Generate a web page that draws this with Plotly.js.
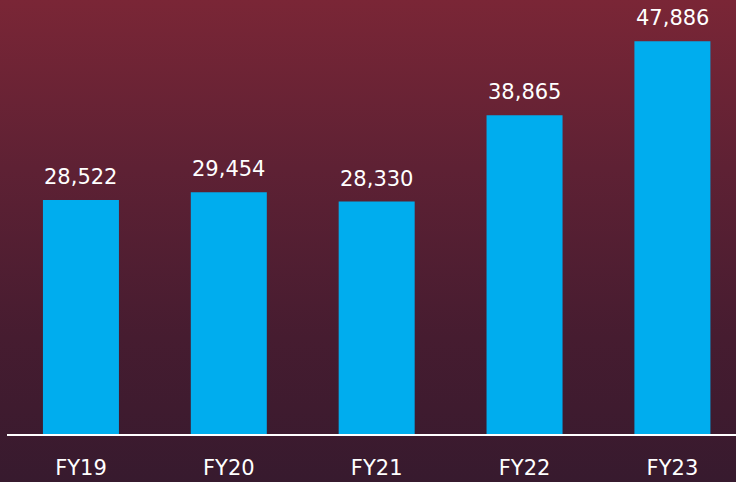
<!DOCTYPE html>
<html>
<head>
<meta charset="utf-8">
<script src="https://cdn.plot.ly/plotly-3.0.1.min.js"></script>
<style>
html,body{margin:0;padding:0;width:736px;height:482px;overflow:hidden;
background:linear-gradient(to bottom,#7a2636 0%,#5e2134 35%,#461c30 70%,#371a2e 100%);}
#chart{width:736px;height:482px;}
</style>
</head>
<body>
<div id="chart"></div>
<script>
const categories = ["FY19", "FY20", "FY21", "FY22", "FY23"];
const values = [28522, 29454, 28330, 38865, 47886];
const labels = ["28,522", "29,454", "28,330", "38,865", "47,886"];

const FONT = "'DejaVu Sans', Verdana, sans-serif";

const trace = {
  type: "bar",
  x: categories,
  y: values,
  marker: {color: "#00adee"},
  hoverinfo: "none"
};

const annotations = categories.map((c, i) => ({
  x: c, y: values[i], xref: "x", yref: "y",
  text: labels[i], showarrow: false,
  yanchor: "bottom", yshift: 9,
  font: {family: FONT, size: 21, color: "#ffffff"}
}));

const layout = {
  width: 736, height: 482,
  margin: {l: 7, r: 0, t: 0, b: 48},
  paper_bgcolor: "rgba(0,0,0,0)",
  plot_bgcolor: "rgba(0,0,0,0)",
  showlegend: false,
  bargap: 0.486,
  xaxis: {
    type: "category",
    range: [-0.5, 4.43],
    showline: true, linecolor: "#ffffff", linewidth: 2,
    showgrid: false, zeroline: false,
    ticks: "outside", ticklen: 14, tickcolor: "rgba(0,0,0,0)",
    tickfont: {family: FONT, size: 21, color: "#ffffff"}
  },
  yaxis: {
    range: [0, 52900],
    visible: false, showgrid: false, zeroline: false
  },
  annotations: annotations
};

Plotly.newPlot("chart", [trace], layout, {displayModeBar: false, staticPlot: true});
</script>
</body>
</html>
